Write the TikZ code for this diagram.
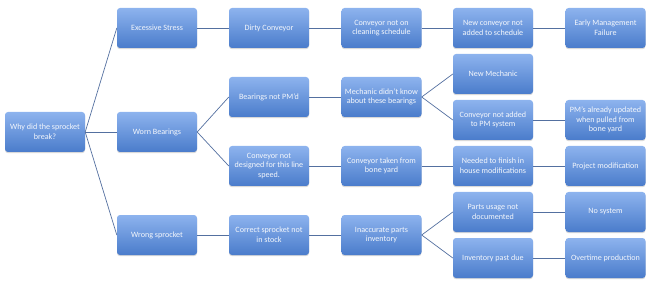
\documentclass[tikz,border=0pt]{standalone}
\usepackage{fontspec}
\setmainfont{Carlito}
\usetikzlibrary{shadows}
\definecolor{boxtop}{HTML}{8DB3EE}
\definecolor{boxbot}{HTML}{4A7CCB}
\definecolor{linec}{HTML}{5470A0}
\definecolor{boxtext}{HTML}{F4F7FC}
\tikzset{
  box/.style={rectangle, rounded corners=3pt, minimum width=80pt, minimum height=40pt,
    align=center, inner sep=1pt, text=boxtext,
    top color=boxtop, bottom color=boxbot, draw=none,
    font=\fontsize{8.1}{9.6}\selectfont,
    drop shadow={shadow xshift=0pt, shadow yshift=-1.2pt, opacity=0.25, fill=black!60}},
  link/.style={draw=linec, line width=0.7pt}
}
\begin{document}
\begin{tikzpicture}[x=1pt,y=-1pt]
\useasboundingbox (0,0) rectangle (650,291);
\node[box] (root) at (45,132) {Why did the sprocket\\break?};
\node[box] (es) at (157,28) {Excessive Stress};
\node[box] (wb) at (157,132) {Worn Bearings};
\node[box] (ws) at (157,235) {Wrong sprocket};
\node[box] (dc) at (269,28) {Dirty Conveyor};
\node[box] (bp) at (269,97) {Bearings not PM’d};
\node[box] (cd) at (269,166) {Conveyor not\\designed for this line\\speed.};
\node[box] (cs) at (269,235) {Correct sprocket not\\in stock};
\node[box] (cc) at (381.5,28) {Conveyor not on\\cleaning schedule};
\node[box] (md) at (381.5,97) {Mechanic didn’t know\\about these bearings};
\node[box] (ct) at (381.5,166) {Conveyor taken from\\bone yard};
\node[box] (ip) at (381.5,235) {Inaccurate parts\\inventory};
\node[box] (nc) at (493,28) {New conveyor not\\added to schedule};
\node[box] (nm) at (493,74) {New Mechanic};
\node[box] (cp) at (493,120) {Conveyor not added\\to PM system};
\node[box] (nf) at (493,166) {Needed to finish in\\house modifications};
\node[box] (pu) at (493,212) {Parts usage not\\documented};
\node[box] (id) at (493,258) {Inventory past due};
\node[box] (em) at (605.5,28) {Early Management\\Failure};
\node[box] (pm) at (605.5,120) {PM’s already updated\\when pulled from\\bone yard};
\node[box] (pr) at (605.5,166) {Project modification};
\node[box] (ns) at (605.5,212) {No system};
\node[box] (ot) at (605.5,258) {Overtime production};
\draw[link] (root.east) -- (es.west);
\draw[link] (root.east) -- (wb.west);
\draw[link] (root.east) -- (ws.west);
\draw[link] (es.east) -- (dc.west);
\draw[link] (wb.east) -- (bp.west);
\draw[link] (wb.east) -- (cd.west);
\draw[link] (ws.east) -- (cs.west);
\draw[link] (dc.east) -- (cc.west);
\draw[link] (bp.east) -- (md.west);
\draw[link] (cd.east) -- (ct.west);
\draw[link] (cs.east) -- (ip.west);
\draw[link] (cc.east) -- (nc.west);
\draw[link] (md.east) -- (nm.west);
\draw[link] (md.east) -- (cp.west);
\draw[link] (ct.east) -- (nf.west);
\draw[link] (ip.east) -- (pu.west);
\draw[link] (ip.east) -- (id.west);
\draw[link] (nc.east) -- (em.west);
\draw[link] (cp.east) -- (pm.west);
\draw[link] (nf.east) -- (pr.west);
\draw[link] (pu.east) -- (ns.west);
\draw[link] (id.east) -- (ot.west);
\end{tikzpicture}
\end{document}
